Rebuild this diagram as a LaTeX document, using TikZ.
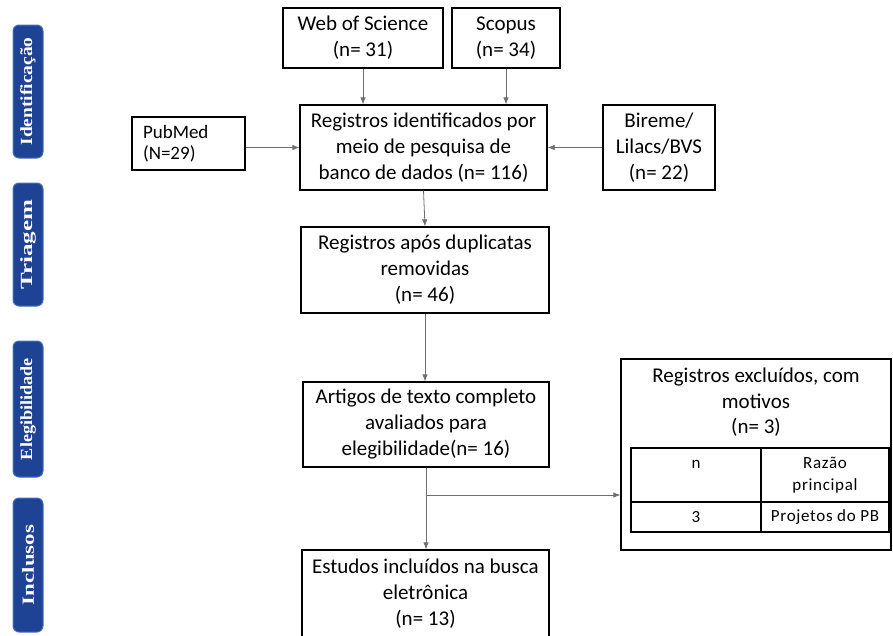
\documentclass[tikz,border=0pt]{standalone}
\usepackage{fontspec}
\setmainfont{Carlito}
\newfontfamily\sidefont{Liberation Serif}
\newfontfamily\tabfont[LetterSpace=4]{Carlito}
\usetikzlibrary{arrows.meta}
\definecolor{barblue}{RGB}{30,66,148}
\definecolor{barrim}{RGB}{74,112,190}
\definecolor{setacor}{RGB}{110,110,110}
\newcommand{\faselabel}[2]{\resizebox{#1}{\height}{#2}}
\tikzset{
  caixa/.style={draw=black, line width=1.3pt, align=center, inner sep=2pt,
    font=\fontsize{21}{26}\selectfont},
  seta/.style={draw=setacor, line width=0.8pt, -{Latex[length=7pt,width=5.5pt]}},
  fase/.style={rotate=90, rounded corners=6pt, fill=barblue, draw=barrim,
    line width=1pt, minimum height=30pt, text=white, inner sep=0pt,
    font=\sidefont\bfseries\fontsize{17}{17}\selectfont},
  celula/.style={draw=black, line width=1.2pt, align=center, inner sep=0pt,
    font=\tabfont\fontsize{17}{22}\selectfont},
}
\begin{document}
\begin{tikzpicture}[x=1pt, y=-1pt]
            \useasboundingbox (0,0) rectangle (893,635);
            %左侧的阶段标签
            \node[fase, minimum width=133pt] (idfase) at (28,91.5) {\faselabel{108pt}{Identificação}};
            \node[fase, minimum width=123pt] (trfase) at (28,244.5) {\faselabel{90pt}{Triagem}};
            \node[fase, minimum width=136pt] (elfase) at (28,409) {\faselabel{102pt}{Elegibilidade}};
            \node[fase, minimum width=134pt] (infase) at (28,565) {\faselabel{80pt}{Inclusos}};

            %数据库的方框
            \node[caixa, minimum width=160pt, minimum height=60pt] (wos) at (363,38) {Web of Science\\(n= 31)};
            \node[caixa, minimum width=108pt, minimum height=60pt] (scopus) at (506,38) {Scopus\\(n= 34)};
            \node[caixa, minimum width=113pt, minimum height=53pt, text width=91pt, align=left,
                  font=\fontsize{19}{21}\selectfont] (pubmed) at (188.5,143.5) {PubMed\\(N=29)};
            \node[caixa, minimum width=112pt, minimum height=85pt] (bireme) at (659,147.5) {Bireme/\\Lilacs/BVS\\(n= 22)};

            %主流程的方框
            \node[caixa, minimum width=247pt, minimum height=85pt] (ident) at (423.5,147.5) {Registros identificados por\\meio de pesquisa de\\banco de dados (n= 116)};
            \node[caixa, minimum width=248pt, minimum height=86pt] (dup) at (425,270) {Registros após duplicatas\\removidas\\(n= 46)};
            \node[caixa, minimum width=246pt, minimum height=85pt] (elig) at (426,424.5) {Artigos de texto completo\\avaliados para\\elegibilidade(n= 16)};
            \node[caixa, minimum width=247pt, minimum height=87pt] (incl) at (425.5,593.5) {Estudos incluídos na busca\\eletrônica\\(n= 13)};

            %排除的方框和表格
            \node[caixa, minimum width=270pt, minimum height=191pt] (excl) at (756,454.5) {};
            \node[align=center, font=\fontsize{21}{25.5}\selectfont] (excltit) at (756,402.5) {Registros excluídos, com\\motivos\\(n= 3)};
            \node[celula, minimum width=130pt, minimum height=54pt] (cn) at (696,475) {\strut n\\\strut};
            \node[celula, minimum width=128pt, minimum height=54pt] (crazao) at (825,475) {Razão\\principal};
            \node[celula, minimum width=130pt, minimum height=30pt] (vn) at (696,517) {3};
            \node[celula, minimum width=128pt, minimum height=30pt] (vrazao) at (825,517) {Projetos do PB};

            %箭头
            \draw[seta] (wos.south) -- (wos.south |- ident.north);
            \draw[seta] (scopus.south) -- (scopus.south |- ident.north);
            \draw[seta] (pubmed.east |- ident.west) -- (ident.west);
            \draw[seta] (bireme.west) -- (ident.east);
            \draw[seta] (ident.south) -- (dup.north);
            \draw[seta] (dup.south) -- (dup.south |- elig.north);
            \draw[seta] (elig.south) -- (elig.south |- incl.north);
            %分支到排除的方框
            \coordinate (ramo) at (426,495);
            \draw[seta] (ramo) -- (ramo -| excl.west);
        \end{tikzpicture}
\end{document}
